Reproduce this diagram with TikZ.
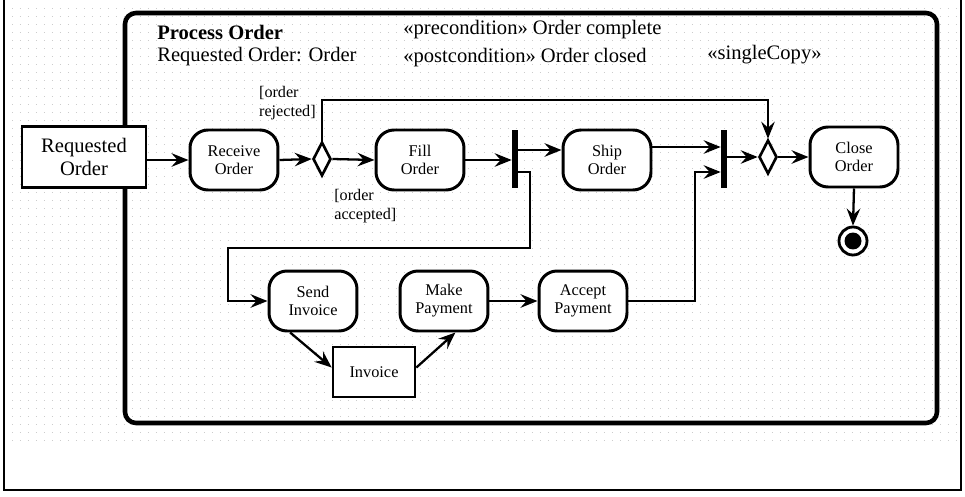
\documentclass[tikz,border=0pt]{standalone}
\usepackage{fontspec}
\setmainfont{Liberation Serif}
\usetikzlibrary{arrows.meta,shapes.geometric}

\tikzset{
  action/.style={draw, fill=white, line width=1.7pt, rounded corners=0.36cm,
    minimum width=1.76cm, minimum height=1.2cm, align=center,
    inner sep=1pt, font=\fontsize{9.3}{10.3}\selectfont},
  objbox/.style={draw, fill=white, line width=1.5pt, align=center, inner sep=1pt},
  bar/.style={fill=black, draw=none, minimum width=0.12cm,
    minimum height=1.16cm, inner sep=0pt},
  choice/.style={diamond, draw, fill=white, line width=1.5pt, inner sep=0pt,
    minimum width=0.36cm, minimum height=0.68cm},
  flow/.style={line width=1.3pt,
    -{Stealth[length=0.34cm,width=0.27cm,inset=0.12cm]}},
  guard/.style={align=left, inner sep=0pt,
    font=\fontsize{9.2}{10.8}\selectfont},
  header/.style={anchor=west, inner sep=0pt,
    font=\fontsize{11.7}{13}\selectfont},
}

\begin{document}
\begin{tikzpicture}[x=0.02cm, y=-0.02cm]
  \useasboundingbox (0,0) rectangle (965,497);

  % dotted background grid
  \foreach \r in {8,16,...,440}
    \draw[gray!40, line width=0.5pt, dash pattern=on 0.02cm off 0.14cm]
      (12,\r) -- (956,\r);

  % page border (open at the top)
  \draw[line width=1.2pt] (4,0) -- (4,490) -- (961,490) -- (961,0);

  % activity frame
  \draw[line width=2.6pt, rounded corners=0.22cm] (125,13) rectangle (937,423);

  % activity header
  \node[header, font=\fontsize{11.7}{13}\selectfont\bfseries] (title) at (157,32) {Process Order};
  \node[header] (param) at (157,57) {Requested Order: Order};
  \node[header] (pre) at (403,30) {«precondition» Order complete};
  \node[header] (post) at (403,58) {«postcondition» Order closed};
  \node[header] (single) at (707,55) {«singleCopy»};

  % input parameter
  \node[objbox, minimum width=2.48cm, minimum height=1.22cm,
    font=\fontsize{11.7}{13.5}\selectfont] (req) at (84,157) {Requested\\Order};

  % main line
  \node[action] (recv) at (234,160) {Receive\\Order};
  \node[choice] (dec1) at (322,159) {};
  \node[action] (fill) at (420,160) {Fill\\Order};
  \node[bar] (fork) at (515,159) {};
  \node[action] (ship) at (607,160) {Ship\\Order};
  \node[bar] (join) at (724,159) {};
  \node[choice] (dec2) at (768,157) {};
  \node[action] (close) at (854,157) {Close\\Order};
  \node[circle, draw, fill=white, line width=1.6pt, minimum size=0.56cm, inner sep=0pt] (fin) at (853,241) {};
  \fill (fin.center) circle (0.17cm);

  % invoice branch
  \node[action] (send) at (313,301) {Send\\Invoice};
  \node[objbox, minimum width=1.64cm, minimum height=1.0cm,
    font=\fontsize{9.3}{10.3}\selectfont] (inv) at (374,372) {Invoice};
  \node[action] (make) at (444,301) {Make\\Payment};
  \node[action] (acc) at (583,301) {Accept\\Payment};

  % guards
  \node[guard, anchor=east] (grej) at (316,103) {[order\\rejected]};
  \node[guard, anchor=north west] (gacc) at (334,189) {[order\\accepted]};

  % bend points
  \coordinate (rtop) at (768,100);
  \coordinate (fdown) at (530,248);
  \coordinate (fleft) at (228,301);
  \coordinate (aup) at (695,172);

  % connectors
  \draw[flow] (req.east |- recv.west) -- (recv.west);
  \draw[flow] (recv.east) -- (dec1.west);
  \draw[flow] (dec1.east) -- (fill.west);
  \draw[flow] (dec1.north) |- (rtop) -- (dec2.north);
  \draw[flow] (fill.east) -- (fork.west |- fill.east);
  \draw[flow] (fork.east |- 0,150) -- (ship.west |- 0,150);
  \draw[flow] (fork.east |- 0,172) -| (fdown) -| (fleft) -- (send.west);
  \draw[flow] (ship.east |- 0,147) -- (join.west |- 0,147);
  \draw[flow] (acc.east) -| (aup) -- (join.west |- aup);
  \draw[flow] (join.east |- dec2.west) -- (dec2.west);
  \draw[flow] (dec2.east) -- (close.west);
  \draw[flow] (close.south) -- (fin.north);
  \draw[flow] (send.234) -- (inv.174);
  \draw[flow] (inv.6) -- (make.290);
  \draw[flow] (make.east) -- (acc.west);
\end{tikzpicture}
\end{document}
